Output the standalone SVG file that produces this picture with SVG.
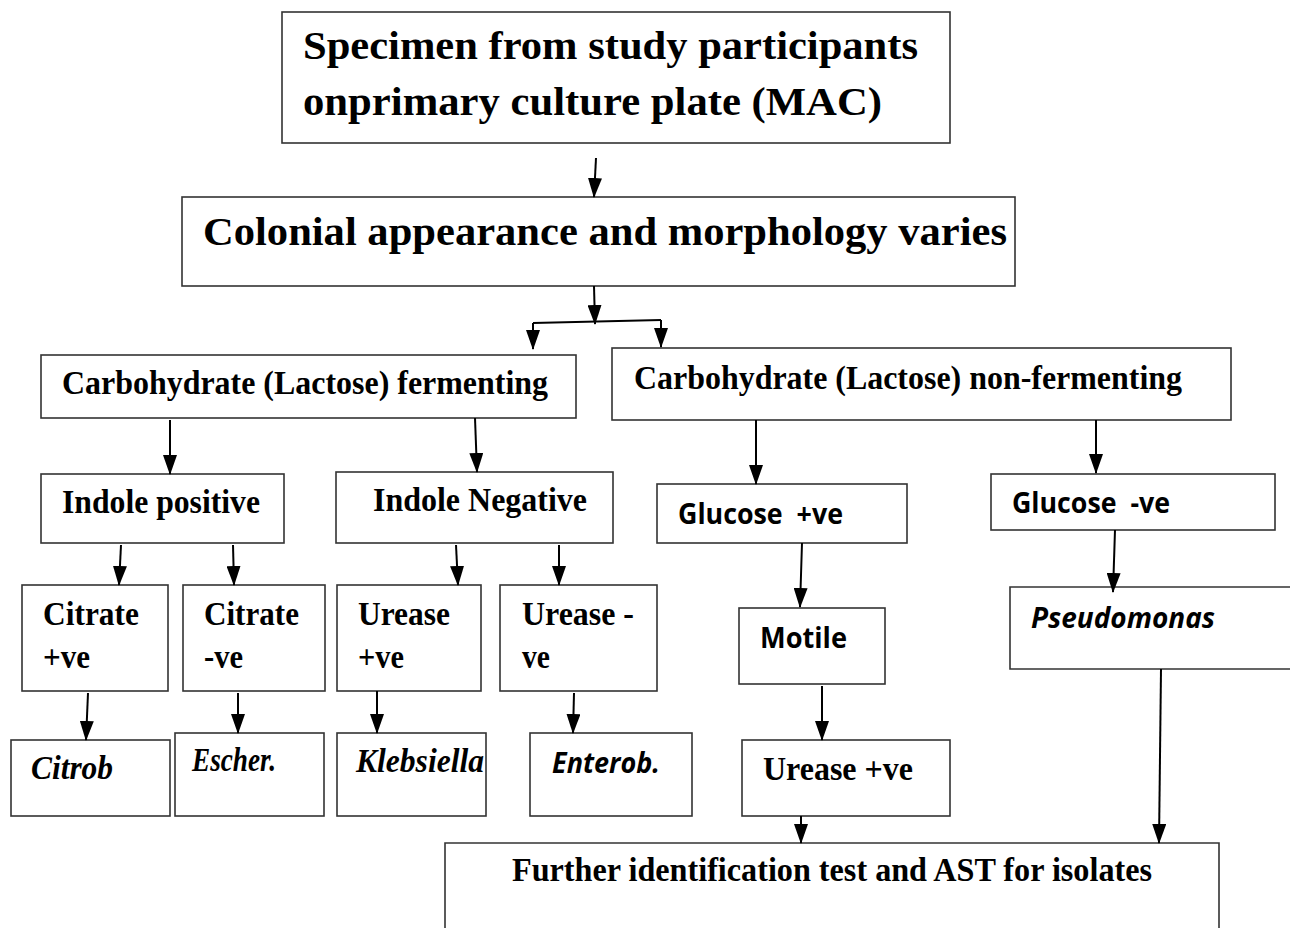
<svg xmlns="http://www.w3.org/2000/svg" width="1290" height="928" viewBox="0 0 1290 928">
<defs>
<marker id="ah" markerUnits="userSpaceOnUse" markerWidth="20" markerHeight="14" refX="19" refY="7" orient="auto">
<path d="M0,0 L20,7 L0,14 z" fill="#000"/>
</marker>
<style>
.box{fill:#fff;stroke:#333;stroke-width:1.6}
.s{font-family:"Liberation Serif","Times New Roman",serif;font-weight:bold;fill:#000}
.si{font-family:"Liberation Serif","Times New Roman",serif;font-weight:bold;font-style:italic;fill:#000}
.c{font-family:"Open Sans","Noto Sans","Liberation Sans",sans-serif;font-weight:bold;fill:#000}
.ci{font-family:"Open Sans","Noto Sans","Liberation Sans",sans-serif;font-weight:bold;font-style:italic;fill:#000}
.a{stroke:#000;stroke-width:2;fill:none;marker-end:url(#ah)}
.l{stroke:#000;stroke-width:2;fill:none}
</style>
</defs>
<rect width="1290" height="928" fill="#fff"/>

<g id="n-specimen">
<rect class="box" x="282" y="12" width="668" height="131"/>
<text class="s" x="303" y="59" font-size="41" textLength="615" lengthAdjust="spacingAndGlyphs">Specimen from study participants</text>
<text class="s" x="303" y="115" font-size="41" textLength="579" lengthAdjust="spacingAndGlyphs">onprimary culture plate (MAC)</text>
</g>
<g id="n-colonial">
<rect class="box" x="182" y="197" width="833" height="89"/>
<text class="s" x="203" y="245" font-size="41" textLength="804" lengthAdjust="spacingAndGlyphs">Colonial appearance and morphology varies</text>
</g>
<g id="n-ferm">
<rect class="box" x="41" y="355" width="535" height="63"/>
<text class="s" x="62" y="394" font-size="33" textLength="486" lengthAdjust="spacingAndGlyphs">Carbohydrate (Lactose) fermenting</text>
</g>
<g id="n-nonferm">
<rect class="box" x="612" y="348" width="619" height="72"/>
<text class="s" x="634" y="389" font-size="33" textLength="548" lengthAdjust="spacingAndGlyphs">Carbohydrate (Lactose) non-fermenting</text>
</g>
<g id="n-indpos">
<rect class="box" x="41" y="474" width="243" height="69"/>
<text class="s" x="62" y="513" font-size="33" textLength="198" lengthAdjust="spacingAndGlyphs">Indole positive</text>
</g>
<g id="n-indneg">
<rect class="box" x="336" y="472" width="277" height="71"/>
<text class="s" x="373" y="511" font-size="33" textLength="214" lengthAdjust="spacingAndGlyphs">Indole Negative</text>
</g>
<g id="n-glupos">
<rect class="box" x="657" y="484" width="250" height="59"/>
<text class="c" x="678" y="524" font-size="28" textLength="165" lengthAdjust="spacingAndGlyphs" xml:space="preserve">Glucose  +ve</text>
</g>
<g id="n-gluneg">
<rect class="box" x="991" y="474" width="284" height="56"/>
<text class="c" x="1012" y="513" font-size="28" textLength="158" lengthAdjust="spacingAndGlyphs" xml:space="preserve">Glucose  -ve</text>
</g>
<g id="n-citpos">
<rect class="box" x="22" y="585" width="146" height="106"/>
<text class="s" x="43" y="625" font-size="33" textLength="96" lengthAdjust="spacingAndGlyphs">Citrate</text>
<text class="s" x="43" y="668" font-size="33" textLength="47" lengthAdjust="spacingAndGlyphs">+ve</text>
</g>
<g id="n-citneg">
<rect class="box" x="183" y="585" width="142" height="106"/>
<text class="s" x="204" y="625" font-size="33" textLength="95" lengthAdjust="spacingAndGlyphs">Citrate</text>
<text class="s" x="204" y="668" font-size="33" textLength="39" lengthAdjust="spacingAndGlyphs">-ve</text>
</g>
<g id="n-urepos">
<rect class="box" x="337" y="585" width="144" height="106"/>
<text class="s" x="358" y="625" font-size="33" textLength="92" lengthAdjust="spacingAndGlyphs">Urease</text>
<text class="s" x="358" y="668" font-size="33" textLength="46" lengthAdjust="spacingAndGlyphs">+ve</text>
</g>
<g id="n-ureneg">
<rect class="box" x="500" y="585" width="157" height="106"/>
<text class="s" x="522" y="625" font-size="33" textLength="112" lengthAdjust="spacingAndGlyphs">Urease -</text>
<text class="s" x="522" y="668" font-size="33" textLength="28" lengthAdjust="spacingAndGlyphs">ve</text>
</g>
<g id="n-citrob">
<rect class="box" x="11" y="740" width="159" height="76"/>
<text class="si" x="31" y="779" font-size="33" textLength="82" lengthAdjust="spacingAndGlyphs">Citrob</text>
</g>
<g id="n-escher">
<rect class="box" x="175" y="733" width="149" height="83"/>
<text class="si" x="192" y="771" font-size="33" textLength="84" lengthAdjust="spacingAndGlyphs">Escher.</text>
</g>
<g id="n-klebs">
<rect class="box" x="337" y="733" width="149" height="83"/>
<text class="si" x="356" y="772" font-size="33" textLength="128" lengthAdjust="spacingAndGlyphs">Klebsiella</text>
</g>
<g id="n-enterob">
<rect class="box" x="530" y="733" width="162" height="83"/>
<text class="ci" x="552" y="773" font-size="28" textLength="108" lengthAdjust="spacingAndGlyphs">Enterob.</text>
</g>
<g id="n-motile">
<rect class="box" x="739" y="608" width="146" height="76"/>
<text class="c" x="760" y="648" font-size="28" textLength="87" lengthAdjust="spacingAndGlyphs">Motile</text>
</g>
<g id="n-urepos2">
<rect class="box" x="742" y="740" width="208" height="76"/>
<text class="s" x="763" y="780" font-size="33" textLength="150" lengthAdjust="spacingAndGlyphs">Urease +ve</text>
</g>
<g id="n-pseudo">
<path class="box" d="M1300,587 H1010 V669 H1300"/>
<text class="ci" x="1031" y="628" font-size="28" textLength="184" lengthAdjust="spacingAndGlyphs">Pseudomonas</text>
</g>
<g id="n-further">
<path class="box" d="M445,935 V843 H1219 V935"/>
<text class="s" x="512" y="881" font-size="33" textLength="640" lengthAdjust="spacingAndGlyphs">Further identification test and AST for isolates</text>
</g>

<g id="connectors">
<path class="a" d="M596,158 L594,197"/>
<path class="a" d="M594,286 L595,324"/>
<path class="l" d="M533,323 L661,320"/>
<path class="a" d="M533,323 L533,349"/>
<path class="a" d="M661,320 L661,347"/>
<path class="a" d="M170,420 L170,474"/>
<path class="a" d="M475,418 L477,472"/>
<path class="a" d="M756,420 L756,484"/>
<path class="a" d="M1096,420 L1096,473"/>
<path class="a" d="M121,545 L119,585"/>
<path class="a" d="M233,545 L234,585"/>
<path class="a" d="M456,545 L458,585"/>
<path class="a" d="M559,545 L559,585"/>
<path class="a" d="M88,693 L86,740"/>
<path class="a" d="M238,693 L238,733"/>
<path class="a" d="M377,691 L377,733"/>
<path class="a" d="M574,693 L573,733"/>
<path class="a" d="M802,543 L800,607"/>
<path class="a" d="M822,686 L822,740"/>
<path class="a" d="M1115,530 L1113,592"/>
<path class="a" d="M801,816 L801,843"/>
<path class="a" d="M1161,669 L1159,843"/>
</g>
</svg>
